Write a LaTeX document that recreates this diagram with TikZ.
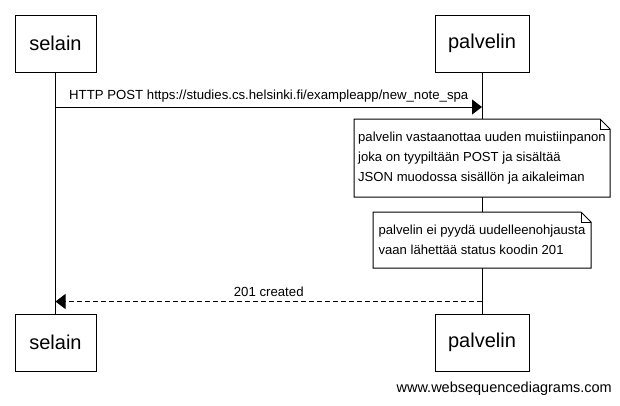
\documentclass[tikz,border=0pt]{standalone}
\usepackage{fontspec}
\setmainfont{Liberation Sans}
\usetikzlibrary{arrows.meta}
\begin{document}
\begin{tikzpicture}[x=1pt,y=-1pt,
  actor/.style={draw,line width=1pt,fill=white,minimum height=57pt,font=\fontsize{20}{23}\selectfont,inner sep=0pt},
  notebox/.style={minimum height=#1,inner sep=5pt,align=left,font=\fontsize{13.1}{20}\selectfont},
  msg/.style={line width=1pt,-{Triangle[length=10pt,width=15pt]}},
  lbl/.style={font=\fontsize{13.2}{15}\selectfont,above=1pt},
  fold/.style={line width=1pt}
]
\useasboundingbox (0,0) rectangle (620,405);
\node[actor,minimum width=81pt] (s1) at (55.5,43.5) {selain};
\node[actor,minimum width=94pt] (p1) at (482,43.5) {palvelin};
\node[actor,minimum width=81pt] (s2) at (55.5,342.5) {selain};
\node[actor,minimum width=94pt] (p2) at (482,342.5) {palvelin};
\draw[line width=1pt] (s1.south) -- (s2.north);
\draw[line width=1pt] (p1.south) -- (p2.north);
% message 1
\coordinate (m1s) at (55.5,107);
\coordinate (m1e) at (482,107);
\draw[msg] (m1s) -- node[lbl] {HTTP POST https://studies.cs.helsinki.fi/exampleapp/new\_note\_spa} (m1e);
% note 1
\coordinate (n1c) at (482,158);
\draw[fold,fill=white] ([shift={(-128,-39)}]n1c) -- ([shift={(118,-39)}]n1c) -- ([shift={(128,-29)}]n1c) -- ([shift={(128,39)}]n1c) -- ([shift={(-128,39)}]n1c) -- cycle;
\draw[fold] ([shift={(118,-39)}]n1c) -- ([shift={(118,-29)}]n1c) -- ([shift={(128,-29)}]n1c);
\node[notebox=78pt,minimum width=256pt] (n1) at (n1c) {palvelin vastaanottaa uuden muistiinpanon\\joka on tyypiltään POST ja sisältää\\JSON muodossa sisällön ja aikaleiman};
% note 2
\coordinate (n2c) at (482,240);
\draw[fold,fill=white] ([shift={(-109,-28)}]n2c) -- ([shift={(99,-28)}]n2c) -- ([shift={(109,-18)}]n2c) -- ([shift={(109,28)}]n2c) -- ([shift={(-109,28)}]n2c) -- cycle;
\draw[fold] ([shift={(99,-28)}]n2c) -- ([shift={(99,-18)}]n2c) -- ([shift={(109,-18)}]n2c);
\node[notebox=56pt,minimum width=218pt] (n2) at (n2c) {palvelin ei pyydä uudelleenohjausta\\vaan lähettää status koodin 201};
% message 2
\coordinate (m2s) at (482,301.5);
\coordinate (m2e) at (55.5,301.5);
\draw[msg,dash pattern=on 5pt off 3pt] (m2s) -- node[lbl] {201 created} (m2e);
\node[font=\fontsize{14.5}{16}\selectfont,anchor=east,inner sep=0pt] (wm) at (612,389) {www.websequencediagrams.com};
\end{tikzpicture}
\end{document}
